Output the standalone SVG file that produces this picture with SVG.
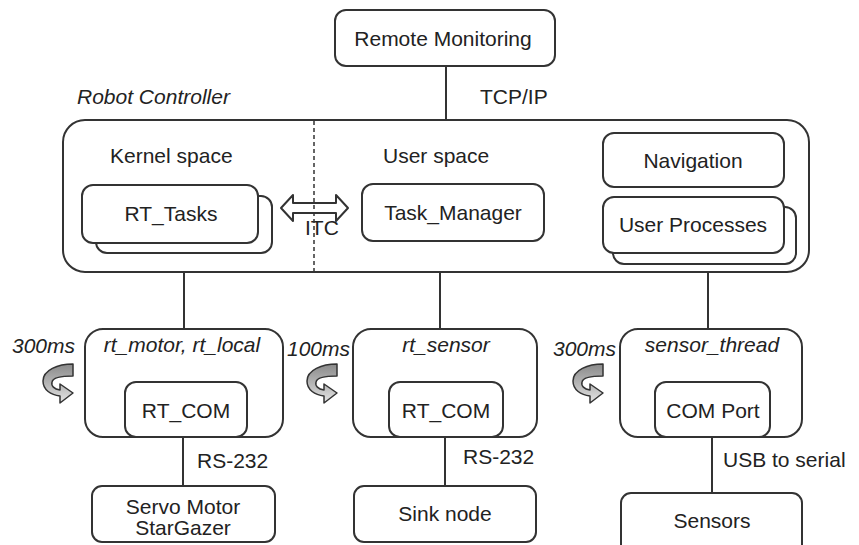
<svg xmlns="http://www.w3.org/2000/svg" width="859" height="545" viewBox="0 0 859 545">
  <defs>
    <style>
      .box { fill: #fff; stroke: #333; stroke-width: 2; }
      .wire { stroke: #333; stroke-width: 2; fill: none; }
      .t { font-family: "Liberation Sans", Arial, sans-serif; font-size: 21px; fill: #222; }
      .c { text-anchor: middle; }
      .i { font-style: italic; }
      .cyc { stroke: #333; stroke-width: 1.5; fill: url(#cycFill); stroke-linejoin: round; }
    </style>
    <linearGradient id="cycFill" x1="0" y1="0" x2="0" y2="1">
      <stop offset="0" stop-color="#8a8a8a"/>
      <stop offset="0.5" stop-color="#b5b5b5"/>
      <stop offset="1" stop-color="#e6e6e6"/>
    </linearGradient>
    <!-- curved "periodic task" arrow icon -->
    <symbol id="cycle" overflow="visible">
      <path class="cyc" d="M30,0 C15,0 0,6 0,17 C0,26 8,31 17,32 L17,39 L30,29 L17,20 L17,26 C11,25 8,22 9,18 C10,13 19,12 30,12 Z"/>
    </symbol>
  </defs>

  <rect width="859" height="545" fill="#fff"/>

  <!-- connectors -->
  <g id="connectors">
    <line class="wire" x1="446" y1="66" x2="446" y2="120"/>
    <line class="wire" x1="184" y1="272" x2="184" y2="329"/>
    <line class="wire" x1="440" y1="272" x2="440" y2="329"/>
    <line class="wire" x1="708" y1="272" x2="708" y2="329"/>
    <line class="wire" x1="183" y1="437" x2="183" y2="486"/>
    <line class="wire" x1="445" y1="437" x2="445" y2="486"/>
    <line class="wire" x1="712" y1="437" x2="712" y2="493"/>
  </g>

  <g id="remote-monitoring">
    <rect class="box" x="335" y="10" width="220" height="56" rx="11"/>
    <text class="t c" x="443" y="46">Remote Monitoring</text>
  </g>

  <text class="t i" x="77" y="104">Robot Controller</text>
  <text class="t" x="480" y="104">TCP/IP</text>

  <g id="robot-controller">
    <rect class="box" x="63" y="120" width="746" height="152" rx="22"/>
    <text class="t" x="110" y="163">Kernel space</text>
    <text class="t" x="383" y="163">User space</text>
  </g>

  <g id="rt-tasks">
    <rect class="box" x="96" y="196" width="176" height="57" rx="11"/>
    <rect class="box" x="82" y="185" width="176" height="58" rx="11"/>
    <text class="t c" x="171" y="221">RT_Tasks</text>
  </g>

  <g id="itc">
    <path class="box" d="M281,208 L293,195 L293,203 L336,203 L336,195 L348,208 L336,221 L336,213 L293,213 L293,221 Z" stroke-linejoin="round"/>
    <text class="t" x="305" y="235">ITC</text>
  </g>

  <line id="space-divider" x1="314" y1="121" x2="314" y2="271" stroke="#333" stroke-width="1.5" stroke-dasharray="4,3"/>

  <g id="task-manager">
    <rect class="box" x="362" y="184" width="182" height="57" rx="11"/>
    <text class="t c" x="453" y="220">Task_Manager</text>
  </g>

  <g id="navigation">
    <rect class="box" x="603" y="133" width="181" height="54" rx="11"/>
    <text class="t c" x="693" y="168">Navigation</text>
  </g>

  <g id="user-processes">
    <rect class="box" x="613" y="207" width="183" height="57" rx="11"/>
    <rect class="box" x="603" y="197" width="181" height="56" rx="11"/>
    <text class="t c" x="693" y="232">User Processes</text>
  </g>

  <!-- lower thread boxes -->
  <g id="rt-motor">
    <rect class="box" x="85" y="329" width="198" height="108" rx="18"/>
    <rect class="box" x="125" y="382" width="122" height="55" rx="11"/>
    <text class="t c i" x="182" y="352">rt_motor, rt_local</text>
    <text class="t c" x="186" y="418">RT_COM</text>
  </g>
  <text class="t i" x="12" y="353">300ms</text>
  <use href="#cycle" x="43" y="364"/>

  <g id="rt-sensor">
    <rect class="box" x="353" y="329" width="184" height="108" rx="18"/>
    <rect class="box" x="389" y="382" width="114" height="55" rx="11"/>
    <text class="t c i" x="446" y="352">rt_sensor</text>
    <text class="t c" x="446" y="418">RT_COM</text>
  </g>
  <text class="t i" x="287" y="356">100ms</text>
  <use href="#cycle" x="307" y="364"/>

  <g id="sensor-thread">
    <rect class="box" x="620" y="329" width="182" height="108" rx="18"/>
    <rect class="box" x="655" y="382" width="115" height="55" rx="11"/>
    <text class="t c i" x="712" y="352">sensor_thread</text>
    <text class="t c" x="713" y="418">COM Port</text>
  </g>
  <text class="t i" x="553" y="356">300ms</text>
  <use href="#cycle" x="573" y="364"/>

  <text class="t" x="197" y="468">RS-232</text>
  <text class="t" x="463" y="464">RS-232</text>
  <text class="t" x="723" y="467">USB to serial</text>

  <g id="servo-motor">
    <rect class="box" x="92" y="486" width="183" height="56" rx="10"/>
    <text class="t c" x="183" y="514">Servo Motor</text>
    <text class="t c" x="183" y="535">StarGazer</text>
  </g>

  <g id="sink-node">
    <rect class="box" x="354" y="486" width="182" height="56" rx="10"/>
    <text class="t c" x="445" y="521">Sink node</text>
  </g>

  <g id="sensors">
    <rect class="box" x="621" y="493" width="181" height="70" rx="10"/>
    <text class="t c" x="712" y="528">Sensors</text>
  </g>
</svg>
